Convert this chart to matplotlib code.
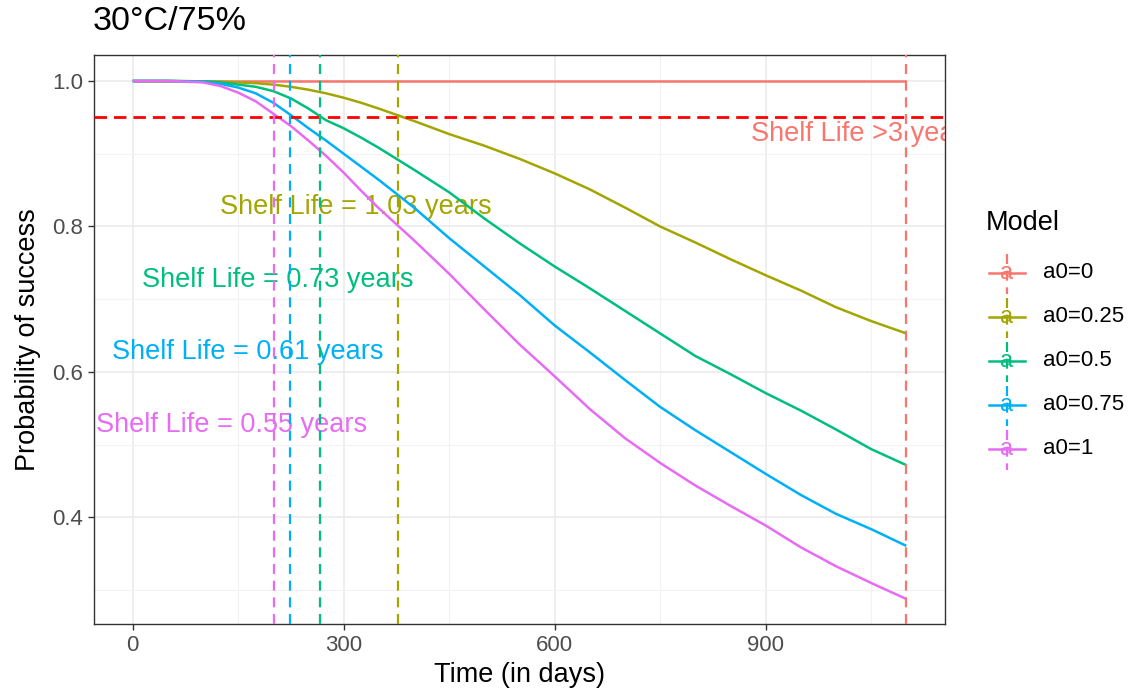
import matplotlib
matplotlib.use("Agg")
import matplotlib.pyplot as plt
from matplotlib.lines import Line2D
from matplotlib.ticker import MultipleLocator

plt.rcParams['font.family'] = ['Liberation Sans', 'DejaVu Sans']

# ---- data ----
days = [0, 50, 100, 125, 150, 175, 200, 225, 250, 275, 300, 325, 350, 400, 450, 500, 550,
        600, 650, 700, 750, 800, 850, 900, 950, 1000, 1050, 1100]
models = ["a0=0", "a0=0.25", "a0=0.5", "a0=0.75", "a0=1"]
colors = ["#F8766D", "#A3A500", "#00BF7D", "#00B0F6", "#E76BF3"]
p_a0_0 = [1.0] * 28
p_a0_025 = [1.0, 1.0, 0.9995, 0.999, 0.998, 0.997, 0.995, 0.992, 0.988, 0.983, 0.977, 0.970, 0.962,
            0.945, 0.927, 0.911, 0.893, 0.873, 0.851, 0.826, 0.800, 0.778, 0.755, 0.733, 0.712,
            0.689, 0.670, 0.653]
p_a0_05 = [1.0, 1.0, 0.9995, 0.998, 0.995, 0.992, 0.986, 0.976, 0.962, 0.946, 0.935, 0.922, 0.908,
           0.878, 0.847, 0.811, 0.777, 0.745, 0.715, 0.684, 0.653, 0.622, 0.597, 0.571, 0.547,
           0.521, 0.494, 0.472]
p_a0_075 = [1.0, 1.0, 0.999, 0.996, 0.991, 0.983, 0.970, 0.953, 0.935, 0.918, 0.900, 0.882, 0.864,
            0.826, 0.784, 0.745, 0.706, 0.664, 0.627, 0.589, 0.552, 0.520, 0.490, 0.460, 0.431,
            0.405, 0.384, 0.361]
p_a0_1 = [1.0, 1.0, 0.998, 0.993, 0.984, 0.972, 0.955, 0.938, 0.918, 0.897, 0.874, 0.849, 0.825,
          0.781, 0.735, 0.686, 0.638, 0.594, 0.549, 0.509, 0.475, 0.444, 0.416, 0.389, 0.359,
          0.333, 0.310, 0.288]
series = [p_a0_0, p_a0_025, p_a0_05, p_a0_075, p_a0_1]

shelf_days = [1100, 377, 266, 223, 201]
shelf_labels = ["Shelf Life >3 years", "Shelf Life = 1.03 years", "Shelf Life = 0.73 years",
                "Shelf Life = 0.61 years", "Shelf Life = 0.55 years"]
label_x = [1040, 317, 206, 163, 141]
label_y = [0.927, 0.827, 0.727, 0.627, 0.527]
threshold = 0.95

title = "30°C/75%"
xlabel = "Time (in days)"
ylabel = "Probability of success"
legend_title = "Model"

# ---- figure ----
W, H = 1130, 695
fig = plt.figure(figsize=(W / 100, H / 100), dpi=100)
ax = fig.add_axes([94 / W, 1 - 624 / H, (945 - 94) / W, (624 - 55) / H])

ax.set_xlim(-55, 1155)
ax.set_ylim(0.2536, 1.0357)
ax.xaxis.set_major_locator(MultipleLocator(300))
ax.xaxis.set_minor_locator(MultipleLocator(150))
ax.set_yticks([0.4, 0.6, 0.8, 1.0])
ax.set_yticklabels(["0.4", "0.6", "0.8", "1.0"])
ax.set_yticks([0.3, 0.5, 0.7, 0.9], minor=True)
ax.grid(which="major", color="#EBEBEB", lw=1.2, zorder=0)
ax.grid(which="minor", color="#F2F2F2", lw=0.8, zorder=0)
ax.set_axisbelow(True)
for s in ax.spines.values():
    s.set_color("#333333")
    s.set_linewidth(1.0)
ax.tick_params(which="major", length=4, width=1.0, color="#333333",
               labelsize=16, labelcolor="#4D4D4D", pad=4)
ax.tick_params(which="minor", length=0)

for ys, c in zip(series, colors):
    ax.plot(days, ys, color=c, lw=1.8, zorder=3, solid_capstyle="butt")

ax.axhline(threshold, color="red", lw=2.0, dashes=(4.5, 2.5), zorder=4)

for sd, c in zip(shelf_days, colors):
    ax.axvline(sd, color=c, lw=1.6, dashes=(4.5, 3.0), zorder=4)

for lx, ly, txt, c in zip(label_x, label_y, shelf_labels, colors):
    ax.text(lx, ly, txt, color=c, fontsize=19.5, ha="center", va="center",
            zorder=2, clip_on=True)

ax.set_xlabel(xlabel, fontsize=19.5, color="black", labelpad=4)
ax.set_ylabel(ylabel, fontsize=19.5, color="black", labelpad=8)
fig.text(93 / W, 1 - 22 / H, title, fontsize=24.5, ha="left", va="center")

# ---- legend (drawn manually, ggplot style keys) ----
def fx(px):
    return px / W

def fy(py):
    return 1 - py / H

fig.text(fx(986), fy(223), legend_title, fontsize=19.5, ha="left", va="center")
key_y = [273, 317, 361, 405, 449]
for ky, m, c in zip(key_y, models, colors):
    fig.add_artist(Line2D([fx(989), fx(1025)], [fy(ky), fy(ky)], color=c, lw=1.8,
                          transform=fig.transFigure))
    fig.add_artist(Line2D([fx(1007), fx(1007)], [fy(ky - 19), fy(ky + 21)], color=c, lw=1.6,
                          dashes=(4.5, 3.0), transform=fig.transFigure))
    fig.text(fx(1007), fy(ky), "a", color=c, fontsize=17, ha="center", va="center")
    fig.text(fx(1043), fy(ky), m, fontsize=16, ha="left", va="center", color="black")

fig.savefig("out.png", dpi=100, facecolor="white")
